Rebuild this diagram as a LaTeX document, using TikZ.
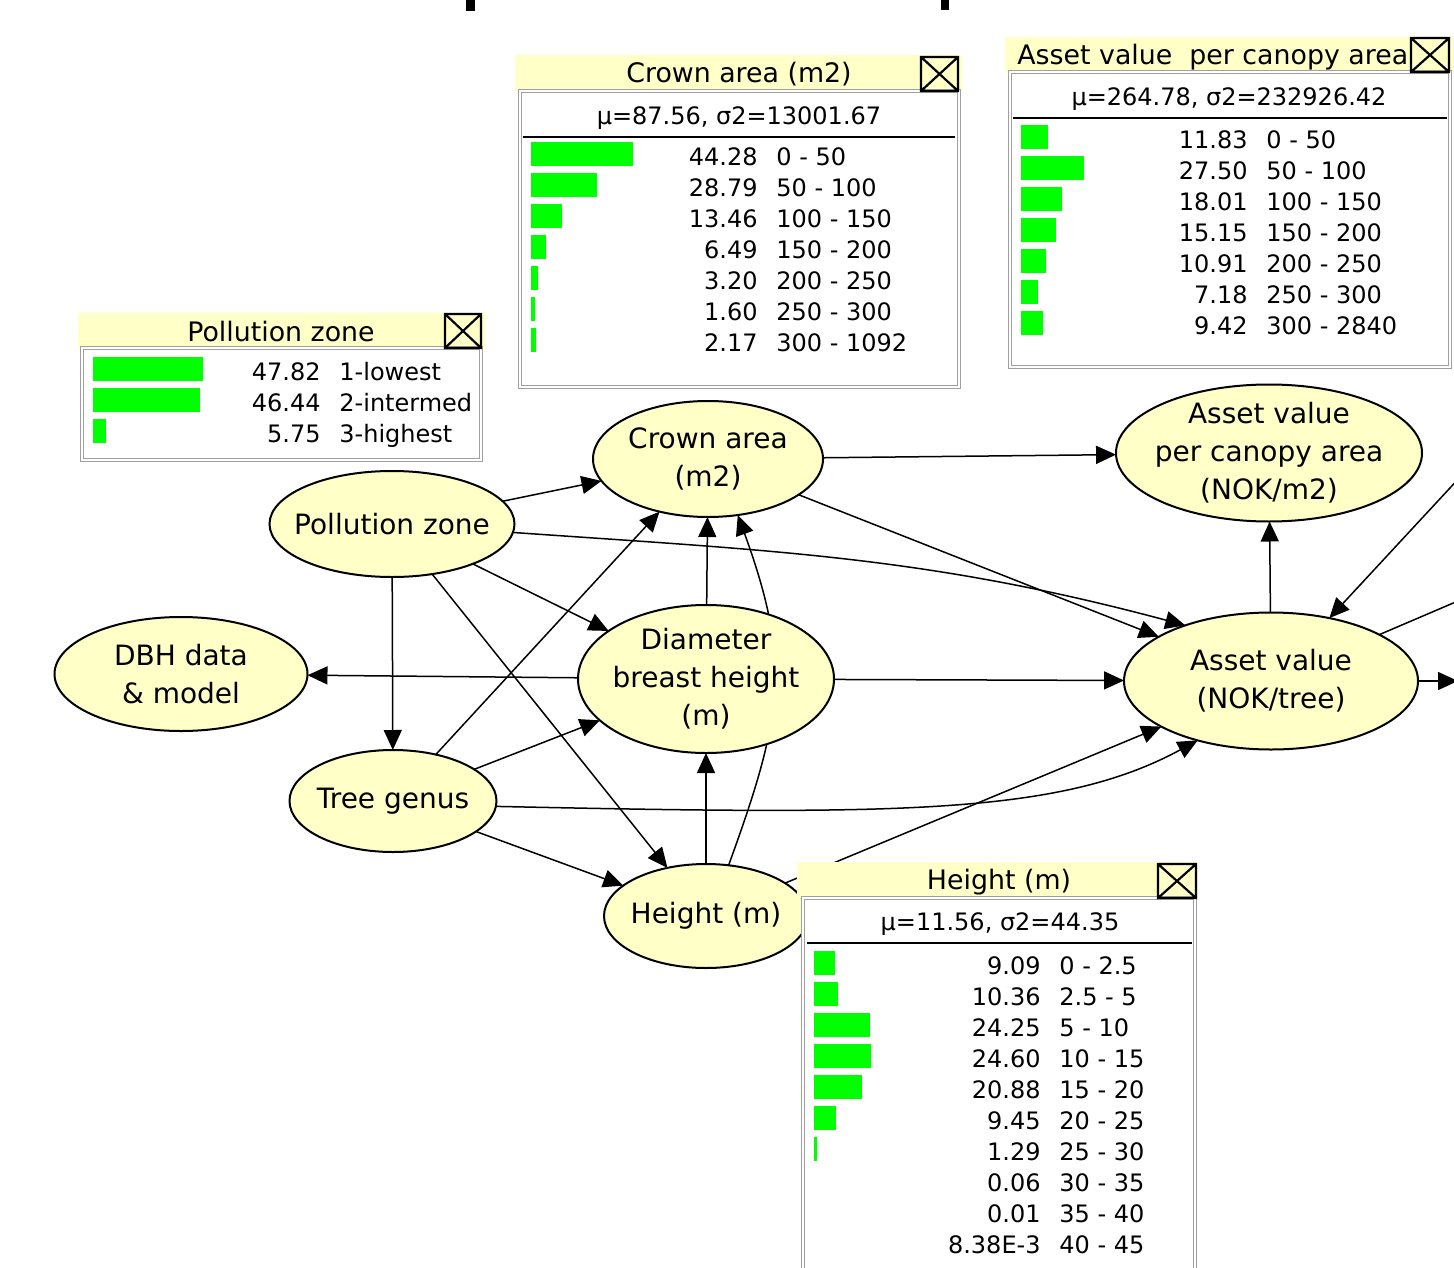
\documentclass[tikz,border=0pt]{standalone}
\usepackage{fontspec}
\setmainfont{DejaVu Sans}
\usetikzlibrary{shapes.geometric, arrows.meta, backgrounds}
\definecolor{nodeyellow}{RGB}{255,255,200}
\definecolor{bargreen}{RGB}{0,255,0}

\begin{document}
\begin{tikzpicture}[
    x=0.5pt, y=-0.5pt,
    bnode/.style={ellipse, draw=black, line width=1pt, fill=nodeyellow, inner sep=0pt, outer sep=0pt},
    every label/.style={align=center, inner sep=0pt, font=\fontsize{14}{19}\selectfont},
    arrow/.style={line width=0.75pt, -{Triangle[length=10pt, width=9pt]}},
    boxtitle/.style={inner sep=0pt, font=\fontsize{13.4}{16}\selectfont},
    meantext/.style={inner sep=0pt, font=\fontsize{12}{14}\selectfont},
    val/.style={anchor=east, inner sep=0pt, text height=8.7pt, text depth=0pt, font=\fontsize{12}{14}\selectfont},
    rng/.style={val, anchor=west},
    pbar/.style={fill=bargreen},
    panel/.style={draw=gray!75, double=white, double distance=1pt, line width=0.6pt, fill=white},
    closebox/.style={draw=black, line width=1.1pt}
]
\useasboundingbox (0,0) rectangle (1454,1267);

\fill (466,0) rectangle (475,11);
\fill (941,0) rectangle (949,10);

\node (pollution) [bnode, minimum width=122.5pt, minimum height=53pt, label=center:Pollution zone] at (392,524) {};
\node (crown) [bnode, minimum width=115pt, minimum height=58pt, label={center:Crown area\\(m2)}] at (708,459) {};
\node (assetarea) [bnode, minimum width=153pt, minimum height=68.5pt, label={center:Asset value\\per canopy area\\(NOK/m2)}] at (1269,453) {};
\node (dbhdata) [bnode, minimum width=126.5pt, minimum height=57pt, label={center:DBH data\\\& model}] at (181,674) {};
\node (diameter) [bnode, minimum width=128pt, minimum height=74pt, label={center:Diameter\\breast height\\(m)}] at (706,679) {};
\node (asset) [bnode, minimum width=147pt, minimum height=68.5pt, label={center:Asset value\\(NOK/tree)}] at (1271,681) {};
\node (genus) [bnode, minimum width=103.5pt, minimum height=51pt, label=center:Tree genus] at (393,801) {};
\node (height) [bnode, minimum width=102pt, minimum height=52pt, label=center:Height (m)] at (706,916) {};
\coordinate (upstream) at (1500,434);
\coordinate (downstream) at (1500,583);
\coordinate (rightout) at (1458,681);

\begin{scope}[on background layer]
\draw [arrow] (pollution) -- (crown);
\draw [arrow] (pollution.-4) to[out=-4, in=165] (asset.147);
\draw [arrow] (pollution) -- (diameter);
\draw [arrow] (pollution) -- (genus);
\draw [arrow] (pollution) -- (height);
\draw [arrow] (crown) -- (assetarea);
\draw [arrow] (crown) -- (asset);
\draw [arrow] (genus) -- (crown);
\draw [arrow] (genus) -- (diameter);
\draw [arrow] (genus) -- (height);
\draw [arrow] (genus.-3) .. controls (900,815) and (1060,815) .. (asset.219);
\draw [arrow] (diameter) -- (crown);
\draw [arrow] (diameter) -- (dbhdata);
\draw [arrow] (diameter) -- (asset);
\draw [arrow] (height) -- (diameter);
\draw [arrow] (height.66) to[out=70, in=-70, looseness=1.15] (crown.-62);
\draw [arrow] (height) -- (asset);
\draw [arrow] (asset) -- (assetarea);
\draw [arrow] (upstream) -- (asset);
\draw [arrow] (asset) -- (downstream);
\draw [arrow] (asset) -- (rightout);
\end{scope}

\fill[nodeyellow] (78,313) rectangle (485,348);
\node (pollutiontitle) [boxtitle] at (281,332) {Pollution zone};
\draw[panel] (82,348) rectangle (481,460);
\draw[closebox] (445,314) rectangle (481,348) (445,314) -- (481,348) (445,348) -- (481,314);
\foreach \p/\r [count=\i from 0] in {47.82/1-lowest, 46.44/2-intermed, 5.75/3-highest}{
  \fill[pbar] (93,357+31*\i) rectangle ++(2.3*\p,24);
  \node (pollutionv\i) [val] at (321,372+31*\i) {\p};
  \node (pollutionr\i) [rng] at (339,372+31*\i) {\r};
}

\fill[nodeyellow] (515,55) rectangle (962,91);
\node (crowntitle) [boxtitle] at (739,74) {Crown area (m2)};
\draw[panel] (520,91) rectangle (959,387);
\draw[closebox] (921,57) rectangle (958,91) (921,57) -- (958,91) (921,91) -- (958,57);
\node (crownmean) [meantext] at (739,118) {μ=87.56, σ2=13001.67};
\draw[line width=1pt] (523,137) -- (955,137);
\foreach \p/\r [count=\i from 0] in {44.28/0 - 50, 28.79/50 - 100, 13.46/100 - 150, 6.49/150 - 200, 3.20/200 - 250, 1.60/250 - 300, 2.17/300 - 1092}{
  \fill[pbar] (531,142+31*\i) rectangle ++(2.3*\p,24);
  \node (crownv\i) [val] at (758,157+31*\i) {\p};
  \node (crownr\i) [rng] at (776,157+31*\i) {\r};
}

\fill[nodeyellow] (1005,37) rectangle (1454,72);
\node (assetareatitle) [boxtitle, anchor=west] at (1017,57) {Asset value~~per canopy area};
\draw[panel] (1010,72) rectangle (1450,367);
\draw[closebox] (1411,38) rectangle (1449,72) (1411,38) -- (1449,72) (1411,72) -- (1449,38);
\node (assetareamean) [meantext] at (1229,99) {μ=264.78, σ2=232926.42};
\draw[line width=1pt] (1013,118) -- (1447,118);
\foreach \p/\r [count=\i from 0] in {11.83/0 - 50, 27.50/50 - 100, 18.01/100 - 150, 15.15/150 - 200, 10.91/200 - 250, 7.18/250 - 300, 9.42/300 - 2840}{
  \fill[pbar] (1021,125+31*\i) rectangle ++(2.3*\p,24);
  \node (assetareav\i) [val] at (1248,140+31*\i) {\p};
  \node (assetarear\i) [rng] at (1266,140+31*\i) {\r};
}

\fill[nodeyellow] (797,862) rectangle (1198,898);
\node (heighttitle) [boxtitle] at (999,882) {Height (m)};
\draw[panel] (803,898) rectangle (1195,1300);
\draw[closebox] (1158,864) rectangle (1196,898) (1158,864) -- (1196,898) (1158,898) -- (1196,864);
\node (heightmean) [meantext] at (1000,924) {μ=11.56, σ2=44.35};
\draw[line width=1pt] (807,943) -- (1192,943);
\foreach \b/\p/\r [count=\i from 0] in {9.09/9.09/0 - 2.5, 10.36/10.36/2.5 - 5, 24.25/24.25/5 - 10, 24.60/24.60/10 - 15, 20.88/20.88/15 - 20, 9.45/9.45/20 - 25, 1.29/1.29/25 - 30, 0/0.06/30 - 35, 0/0.01/35 - 40, 0/8.38E-3/40 - 45}{
  \ifdim\b pt>0pt \fill[pbar] (814,951+31*\i) rectangle ++(2.3*\b,24); \fi
  \node (heightv\i) [val] at (1041,966+31*\i) {\p};
  \node (heightr\i) [rng] at (1059,966+31*\i) {\r};
}
\end{tikzpicture}
\end{document}
